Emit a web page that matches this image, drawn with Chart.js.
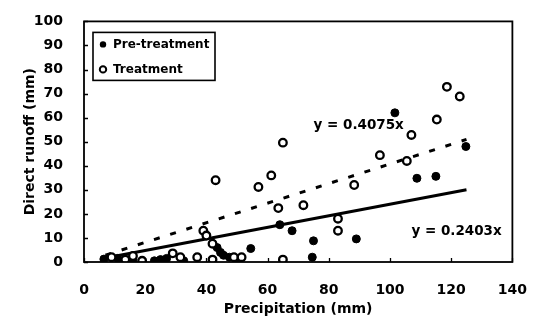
<!DOCTYPE html>
<html><head><meta charset="utf-8">
<script src="https://cdn.jsdelivr.net/npm/chart.js@4/dist/chart.umd.min.js"></script>
<style>html,body{margin:0;padding:0;background:#fff}#wrap{width:539px;height:329px}</style>
</head><body><div id="wrap"><canvas id="c" width="539" height="329"></canvas></div>
<script>
// ---- data ----
const seriesNames = ['Pre-treatment', 'Treatment'];
const preX = [6.5, 11, 16, 23, 25, 27, 32.6, 43.5, 44.6, 45.6, 47.5, 50, 54.5, 64, 68, 74.6, 75, 89, 101.6, 108.8, 115, 124.8];
const preY = [1.2, 1.5, 1, 0.5, 1, 1.5, 0.5, 6, 4, 2.8, 2, 0.5, 5.6, 15.5, 13, 2, 8.8, 9.6, 62, 34.8, 35.6, 48];
const trtX = [9, 13.5, 16, 19, 29, 31.5, 37, 39, 40, 42, 42, 43, 49, 51.5, 57, 61.2, 63.5, 65, 65, 71.7, 83, 83, 88.3, 96.7, 105.5, 107, 115.3, 118.6, 122.8];
const trtY = [2, 1, 2.5, 0.5, 3.6, 2, 2, 13, 11, 7.6, 1, 34, 2, 2, 31.2, 36, 22.4, 49.6, 1, 23.6, 18, 13, 32, 44.4, 42, 52.8, 59.2, 72.8, 68.8];
const slopes = [0.2403, 0.4075];
const fitRange = [7, 125];
const eqLabels = ['y = 0.2403x', 'y = 0.4075x'];
const xTicks = [0, 20, 40, 60, 80, 100, 120, 140];
const yTicks = [0, 10, 20, 30, 40, 50, 60, 70, 80, 90, 100];
const xTitle = 'Precipitation (mm)';
const yTitle = 'Direct runoff (mm)';

const FONT = 'DejaVu Sans';
const pts = (xs, ys) => xs.map((x, i) => ({x: x, y: ys[i]}));
const fit = s => fitRange.map(x => ({x: x, y: s * x}));

const overlay = {
  id: 'overlay',
  afterDatasetsDraw(chart) {
    const ctx = chart.ctx, a = chart.chartArea;
    const xs = chart.scales.x, ys = chart.scales.y;
    ctx.save();
    ctx.strokeStyle = '#000';
    ctx.lineWidth = 1.8;
    ctx.strokeRect(a.left, a.top, a.right - a.left, a.bottom - a.top);
    ctx.lineWidth = 1.3;
    ctx.beginPath();
    yTicks.forEach(v => { const p = Math.round(ys.getPixelForValue(v)) + 0.5; ctx.moveTo(a.left, p); ctx.lineTo(a.left + 4, p); });
    xTicks.forEach(v => { const p = Math.round(xs.getPixelForValue(v)) + 0.5; ctx.moveTo(p, a.bottom); ctx.lineTo(p, a.bottom - 4); });
    ctx.stroke();
    // equations
    ctx.fillStyle = '#000';
    ctx.font = 'bold 13.5px "' + FONT + '"';
    ctx.textBaseline = 'middle';
    ctx.textAlign = 'left';
    ctx.fillText(eqLabels[1], xs.getPixelForValue(75), ys.getPixelForValue(56.8));
    ctx.fillText(eqLabels[0], xs.getPixelForValue(107), ys.getPixelForValue(12.8));
    // legend
    const lx = a.left + 9, ly = a.top + 11, lw = 122, lh = 48;
    ctx.fillStyle = '#fff';
    ctx.fillRect(lx, ly, lw, lh);
    ctx.lineWidth = 1.6;
    ctx.strokeRect(lx, ly, lw, lh);
    ctx.font = 'bold 12px "' + FONT + '"';
    ctx.fillStyle = '#000';
    [0, 1].forEach(i => {
      const cy = ly + 12 + i * 25;
      ctx.beginPath();
      ctx.arc(lx + 10, cy, 3.2, 0, Math.PI * 2);
      if (i === 0) { ctx.fillStyle = '#000'; ctx.fill(); }
      else { ctx.lineWidth = 2; ctx.stroke(); }
      ctx.fillStyle = '#000';
      ctx.fillText(chart.data.datasets[i].label, lx + 20, cy);
    });
    ctx.restore();
  }
};

new Chart(document.getElementById('c'), {
  type: 'scatter',
  data: {
    datasets: [
      {label: seriesNames[0], data: pts(preX, preY), pointRadius: 4, pointBackgroundColor: '#000', pointBorderColor: '#000', pointBorderWidth: 1, order: 1},
      {label: seriesNames[1], data: pts(trtX, trtY), pointRadius: 3.8, pointBackgroundColor: '#fff', pointBorderColor: '#000', pointBorderWidth: 2.3, order: 0},
      {type: 'line', label: 'fit pre', data: fit(slopes[0]), borderColor: '#000', borderWidth: 3, pointRadius: 0, fill: false, order: 2},
      {type: 'line', label: 'fit trt', data: fit(slopes[1]), borderColor: '#000', borderWidth: 3, borderDash: [6, 11], pointRadius: 0, fill: false, order: 2}
    ]
  },
  options: {
    responsive: false,
    animation: false,
    devicePixelRatio: 1,
    layout: {padding: {left: 18, right: 24, top: 12, bottom: 7}},
    plugins: {legend: {display: false}, tooltip: {enabled: false}},
    scales: {
      x: {
        type: 'linear', min: 0, max: 140,
        afterBuildTicks: s => { s.ticks = xTicks.map(v => ({value: v})); },
        ticks: {color: '#000', font: {family: FONT, size: 14, weight: 'bold'}, padding: 12, maxRotation: 0},
        grid: {display: false}, border: {display: false},
        title: {display: true, text: xTitle, color: '#000', font: {family: FONT, size: 14, weight: 'bold'}, padding: {top: 4, bottom: 4}},
        afterFit: s => { s.height = 60; }
      },
      y: {
        type: 'linear', min: 0, max: 100,
        afterBuildTicks: s => { s.ticks = yTicks.map(v => ({value: v})); },
        ticks: {color: '#000', font: {family: FONT, size: 14, weight: 'bold'}, padding: 13},
        grid: {display: false}, border: {display: false},
        title: {display: true, text: yTitle, color: '#000', font: {family: FONT, size: 14, weight: 'bold'}, padding: {top: 4, bottom: 4}},
        afterFit: s => { s.width = 66; }
      }
    }
  },
  plugins: [overlay]
});
</script>
</body></html>
